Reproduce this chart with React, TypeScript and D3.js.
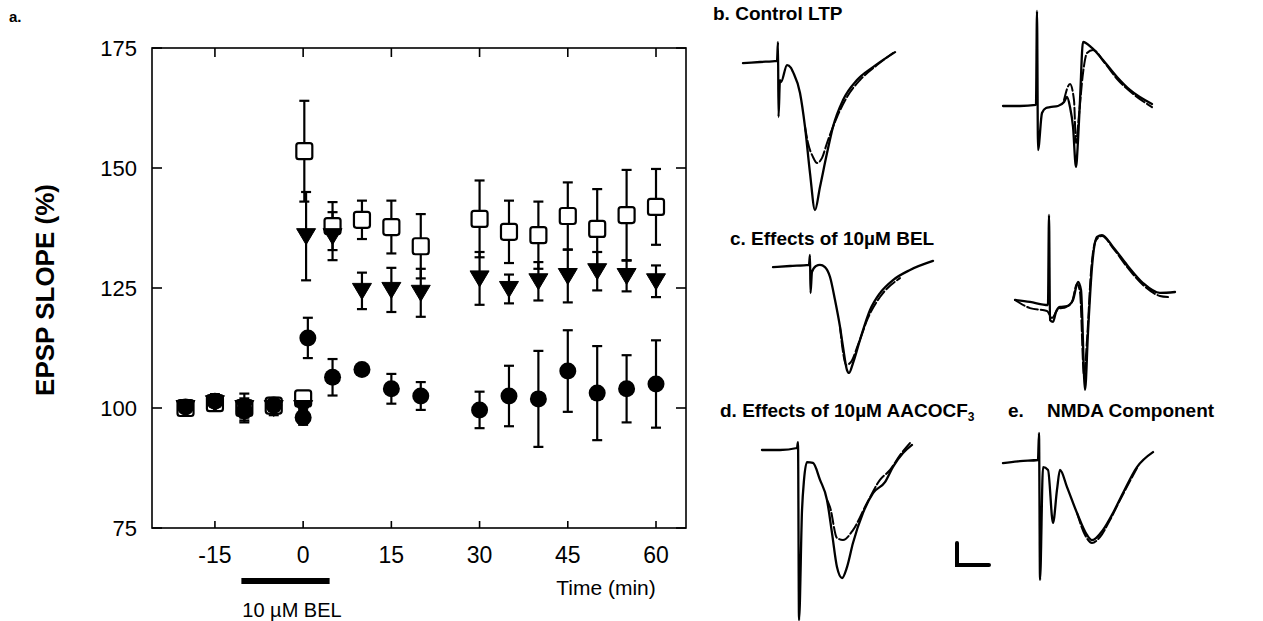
import React from "react";
import * as d3 from "d3";

// ---------- Panel a data ----------
const xTicks = [-15, 0, 15, 30, 45, 60];
const yTicks = [75, 100, 125, 150, 175];

// Control LTP (open squares): [time, mean, sem]
const controlLTP: [number, number, number][] = [
  [-20, 100, 1], [-15, 101, 1.5], [-10, 100, 3], [-5, 100.5, 1.5], [0, 102, 1.5],
  [0.2, 153.5, 10.5], [5, 137.9, 5], [10, 139.2, 4], [15, 137.7, 5.5], [20, 133.7, 6.7],
  [30, 139.4, 8], [35, 136.7, 6.5], [40, 136, 7], [45, 140, 7], [50, 137.3, 8.3],
  [55, 140.2, 9.4], [60, 141.9, 7.9],
];
// AACOCF3 (filled triangles)
const aacocf3: [number, number, number][] = [
  [-20, 100, 1], [-15, 101, 1.5], [-10, 100, 2], [-5, 100, 1.5], [0, 100, 1.5],
  [0.5, 135.8, 9.2], [5, 135.8, 5], [10, 124.4, 3.8], [15, 124.6, 4.6], [20, 124, 5],
  [30, 127, 5.5], [35, 124.8, 3], [40, 126.4, 4], [45, 127.5, 5.5], [50, 128.5, 4],
  [55, 127.5, 3.2], [60, 126.4, 3.3],
];
// BEL (filled circles)
const bel: [number, number, number][] = [
  [-20, 100.2, 0.5], [-15, 101.4, 1.5], [-10, 99.4, 2], [-5, 100.6, 1.5], [0, 98, 1.5],
  [0.8, 114.6, 4.2], [5, 106.4, 3.8], [10, 108, 0], [15, 104, 3.1], [20, 102.5, 2.9],
  [30, 99.6, 3.8], [35, 102.5, 6.3], [40, 101.9, 10], [45, 107.7, 8.5], [50, 103.1, 9.8],
  [55, 104, 7], [60, 105, 9.1],
];
const belBar: [number, number] = [-10.5, 4.5];

// ---------- Trace data: [ms from stimulus, mV] ----------
const bLeftPost: [number, number][] = [
  [-5.47, -0.05], [-2.81, 0], [-0.16, 0.05], [0, 0.91], [0.08, -2.5], [0.31, -0.82],
  [0.47, -0.91], [1.41, -0.14], [2.03, -0.27], [2.34, -0.45], [3.44, -1.41], [4.22, -2.95],
  [5.0, -5.05], [5.78, -6.73], [6.56, -5.68], [7.66, -4.14], [8.59, -2.95], [10.16, -1.73],
  [12.34, -0.82], [14.84, -0.23], [18.28, 0.45],
];
const bLeftPre: [number, number][] = [
  [4.22, -2.95], [4.69, -3.68], [5.47, -4.32], [6.09, -4.59], [6.88, -4.36], [7.66, -3.68],
  [9.22, -2.5], [10.78, -1.59], [12.81, -0.82], [15.47, -0.14], [17.97, 0.41],
];
const bRightPost: [number, number][] = [
  [-5.31, 0], [-2.66, 0], [-0.16, 0.05], [0, 4.32], [0.16, -2], [0.78, -0.32], [1.41, -0.09],
  [2.03, -0.05], [3.28, 0], [4.22, 0.18], [4.69, 0.41], [5.16, -0.05], [5.63, -0.95],
  [6.09, -2.77], [6.41, -1.55], [6.72, 0.27], [7.19, 2.91], [8.59, 2.64], [10.31, 2.09],
  [12.5, 1.32], [14.53, 0.73], [17.97, 0.09],
];
const bRightPre: [number, number][] = [
  [4.22, 0.27], [5.16, 1.0], [5.78, 0.27], [6.09, -1.68], [6.56, -0.41], [7.19, 1.5],
  [7.81, 2.41], [8.75, 2.55], [10.47, 2.0], [12.66, 1.18], [14.84, 0.59], [17.97, -0.05],
];
const cLeftPost: [number, number][] = [
  [-5.78, -0.05], [-3.13, 0], [-0.16, 0.05], [0, 0.5], [0.08, -1.23], [0.31, -0.27],
  [0.94, 0], [1.56, 0.05], [2.34, -0.05], [3.13, -0.5], [3.91, -1.55], [4.69, -2.77],
  [5.16, -3.68], [5.78, -4.73], [6.09, -4.86], [6.72, -4.41], [7.81, -3.36], [9.38, -2.0],
  [10.94, -1.23], [12.97, -0.64], [15.63, -0.18], [19.22, 0.23],
];
const cLeftPre: [number, number][] = [
  [4.69, -2.77], [5.16, -3.91], [5.63, -4.5], [6.41, -4.36], [7.5, -3.59], [9.06, -2.36],
  [10.94, -1.41], [14.06, -0.55],
];
const cRightPost: [number, number][] = [
  [-5.31, 0.23], [-2.97, 0.14], [-0.16, 0], [0, 4.09], [0.16, -0.68], [0.63, -0.77],
  [1.09, -0.32], [1.72, -0.09], [2.81, -0.05], [3.75, 0.23], [4.53, 1.05], [5.0, 0.68],
  [5.63, -3.86], [6.09, -1.27], [6.72, 1.73], [7.5, 3.09], [8.28, 3.18], [10.0, 2.64],
  [12.19, 1.82], [14.69, 1.0], [17.34, 0.55], [19.69, 0.59],
];
const cRightPre: [number, number][] = [
  [-5.31, 0.23], [-2.97, -0.14], [-0.31, -0.27], [0.47, -0.59], [1.41, -0.18], [2.66, -0.09],
  [3.59, 0.14], [4.38, 0.95], [4.84, 0.59], [5.47, -3.18], [5.94, -1.59], [6.56, 1.5],
  [7.34, 2.95], [8.28, 3.14], [10.0, 2.59], [12.19, 1.73], [14.69, 0.91], [17.34, 0.41],
  [18.59, 0.36],
];
const dLeftPost: [number, number][] = [
  [-5.63, -0.09], [-2.81, -0.09], [-0.16, 0], [0, 0.27], [0.16, -7.82], [0.63, -2.82],
  [0.94, -1.45], [1.41, -0.64], [2.34, -0.68], [3.44, -1.45], [4.53, -2.36], [5.31, -3.86],
  [6.09, -5.41], [6.88, -5.91], [7.66, -5.41], [8.59, -4.32], [10.16, -2.95], [11.72, -2.05],
  [13.59, -1.55], [14.84, -0.86], [16.41, -0.23], [17.81, 0.14],
];
const dLeftPre: [number, number][] = [
  [4.53, -2.36], [5.0, -2.68], [6.09, -4.09], [7.03, -4.18], [8.59, -3.73], [10.78, -2.5],
  [12.81, -1.45], [14.38, -1.0], [15.94, -0.32], [17.5, 0.23],
];
const eRightPost: [number, number][] = [
  [-5.63, -0.14], [-2.97, -0.05], [-0.16, 0], [0, 1.23], [0.16, -5.45], [0.63, -0.32],
  [1.41, -0.45], [2.19, -2.86], [2.81, -1.36], [3.28, -0.45], [4.38, -1.23], [5.94, -2.41],
  [7.5, -3.41], [8.28, -3.64], [10.0, -3.18], [11.56, -2.41], [13.13, -1.5], [15.31, -0.32],
  [17.81, 0.36],
];
const eRightPre: [number, number][] = [
  [5.94, -2.41], [7.19, -3.41], [8.28, -3.77], [9.53, -3.5], [11.09, -2.73], [12.66, -1.82],
  [15.31, -0.36],
];
const scaleBarMs = 5;
const scaleBarMv = 1;

const FONT = "'Liberation Sans', Arial, Helvetica, sans-serif";

export default function App() {
  const W = 1263, H = 621;
  const L = 152, R = 686, T = 48, B = 528;
  const x = d3.scaleLinear().domain([-25.7, 65.1]).range([L, R]);
  const y = d3.scaleLinear().domain([75, 175]).range([B, T]);
  const sw = 2.2;
  const capW = 5;

  const errBars = (data: [number, number, number][], key: string) =>
    data.filter((d) => d[2] > 0).map((d, i) => {
      const cx = x(d[0]);
      const y1 = y(d[1] - d[2]);
      const y2 = y(d[1] + d[2]);
      return (
        <g key={key + i} stroke="#000" strokeWidth={sw}>
          <line x1={cx} x2={cx} y1={y1} y2={y2} />
          <line x1={cx - capW} x2={cx + capW} y1={y1} y2={y1} />
          <line x1={cx - capW} x2={cx + capW} y1={y2} y2={y2} />
        </g>
      );
    });

  // trace panels: origin = stimulus time / baseline position on the page
  const msPx = 6.4; // px per ms
  const mvPx = 22; // px per mV
  const panels = [
    { ox: 778, oy: 62, post: bLeftPost, pre: bLeftPre },
    { ox: 1037, oy: 106, post: bRightPost, pre: bRightPre },
    { ox: 810, oy: 266, post: cLeftPost, pre: cLeftPre },
    { ox: 1049, oy: 305, post: cRightPost, pre: cRightPre },
    { ox: 798, oy: 448, post: dLeftPost, pre: dLeftPre },
    { ox: 1039, oy: 460, post: eRightPost, pre: eRightPre },
  ];
  const tracePath = (ox: number, oy: number, data: [number, number][]) => {
    const tx = d3.scaleLinear().domain([0, 1]).range([ox, ox + msPx]);
    const ty = d3.scaleLinear().domain([0, 1]).range([oy, oy - mvPx]);
    return d3
      .line<[number, number]>()
      .x((d) => tx(d[0]))
      .y((d) => ty(d[1]))
      .curve(d3.curveMonotoneX)(data) as string;
  };

  const sbX = 957, sbY = 565;

  return (
    <svg
      width={W}
      height={H}
      style={{ position: "absolute", left: 0, top: 0, background: "#fff" }}
      fontFamily={FONT}
    >
      <rect x={0} y={0} width={W} height={H} fill="#fff" />
      {/* panel a */}
      <text x={9} y={22} fontSize={15} fontWeight="bold">a.</text>
      <rect x={L} y={T} width={R - L} height={B - T} fill="none" stroke="#000" strokeWidth={1.6} />
      {xTicks.map((t) => (
        <g key={"xt" + t} stroke="#000" strokeWidth={1.6}>
          <line x1={x(t)} x2={x(t)} y1={B} y2={B - 7} />
          <line x1={x(t)} x2={x(t)} y1={T} y2={T + 9} />
        </g>
      ))}
      {yTicks.map((t) => (
        <g key={"yt" + t} stroke="#000" strokeWidth={1.6}>
          <line x1={L} x2={L + 10} y1={y(t)} y2={y(t)} />
          <line x1={R} x2={R - 10} y1={y(t)} y2={y(t)} />
        </g>
      ))}
      {xTicks.map((t) => (
        <text key={"xl" + t} x={x(t)} y={563} fontSize={23} textAnchor="middle">{t}</text>
      ))}
      {yTicks.map((t) => (
        <text key={"yl" + t} x={137} y={y(t) + 8} fontSize={22} textAnchor="end">{t}</text>
      ))}
      <text
        transform={`translate(54,${290}) rotate(-90)`}
        fontSize={26}
        fontWeight="bold"
        textAnchor="middle"
      >
        EPSP SLOPE (%)
      </text>
      <text x={606} y={595} fontSize={21} textAnchor="middle">Time (min)</text>
      <rect x={x(belBar[0])} y={578} width={x(belBar[1]) - x(belBar[0])} height={6} fill="#000" />
      <text x={292} y={617} fontSize={20} textAnchor="middle">10 µM BEL</text>

      {/* error bars */}
      {errBars(controlLTP, "ec")}
      {errBars(aacocf3, "ea")}
      {errBars(bel, "eb")}
      {/* markers */}
      {controlLTP.map((d, i) => (
        <rect key={"s" + i} x={x(d[0]) - 8} y={y(d[1]) - 8} width={16} height={16} rx={2.5}
          fill="#fff" stroke="#000" strokeWidth={sw} />
      ))}
      {aacocf3.map((d, i) => {
        const cx = x(d[0]), cy = y(d[1]);
        return (
          <path key={"t" + i} d={`M${cx - 9.5},${cy - 7.5}L${cx + 9.5},${cy - 7.5}L${cx},${cy + 8.5}Z`}
            fill="#000" stroke="#000" strokeWidth={1} strokeLinejoin="round" />
        );
      })}
      {bel.map((d, i) => (
        <circle key={"c" + i} cx={x(d[0])} cy={y(d[1])} r={8.5} fill="#000" />
      ))}

      {/* right: traces */}
      <g fontWeight="bold" fontSize={19}>
        <text x={713} y={20}>b. Control LTP</text>
        <text x={730} y={245}>c. Effects of 10µM BEL</text>
        <text x={720} y={417}>
          d. Effects of 10µM AACOCF<tspan fontSize={12} dy={4}>3</tspan>
        </text>
        <text x={1008} y={417}>e.</text>
        <text x={1047} y={417}>NMDA Component</text>
      </g>
      {panels.map((p, i) => (
        <g key={"p" + i} fill="none" stroke="#000" strokeLinejoin="round" strokeLinecap="round">
          <path d={tracePath(p.ox, p.oy, p.pre)} strokeWidth={2} strokeDasharray="11 3" />
          <path d={tracePath(p.ox, p.oy, p.post)} strokeWidth={2.3} />
        </g>
      ))}
      {/* scale bar */}
      <path
        d={`M${sbX},${sbY - scaleBarMv * mvPx}L${sbX},${sbY}L${sbX + scaleBarMs * msPx},${sbY}`}
        fill="none" stroke="#000" strokeWidth={4} strokeLinecap="round"
      />
    </svg>
  );
}
